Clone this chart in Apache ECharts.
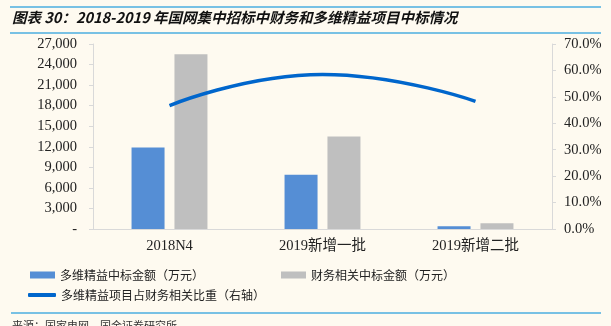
<!DOCTYPE html>
<html>
<head>
<meta charset="utf-8">
<script src="https://cdn.jsdelivr.net/npm/echarts@6/dist/echarts.min.js"></script>
<style>
  html, body { margin: 0; padding: 0; background: #FEFAF0; }
  #chart { width: 611px; height: 326px; }
</style>
</head>
<body>
<div id="chart"></div>
<script>
// Categories and values (amounts in 万元, share in %)
const categories = ['2018N4', '2019新增一批', '2019新增二批'];
const leanAmount = [11900, 7900, 400];
const financeAmount = [25500, 13500, 830];
const leanShare = [46.7, 58.5, 48.3];

const titleText = '图表 30：2018-2019 年国网集中招标中财务和多维精益项目中标情况';
const sourceText = '来源：国家电网，国金证券研究所';
const seriesNames = ['多维精益中标金额（万元）', '财务相关中标金额（万元）', '多维精益项目占财务相关比重（右轴）'];

const serif = "'Liberation Serif', 'Times New Roman', 'Noto Sans CJK SC', serif";
const cjk = "'Noto Sans CJK SC', sans-serif";

const chart = echarts.init(document.getElementById('chart'), null, { renderer: 'canvas' });

const fmtThousands = v => v === 0 ? '-' : v.toLocaleString('en-US');

chart.setOption({
  backgroundColor: '#FEFAF0',
  animation: false,
  grid: { left: 93, right: 59, top: 44, bottom: 97 },
  graphic: [
    { type: 'line', shape: { x1: 10, y1: 7, x2: 601, y2: 7 }, style: { stroke: '#4BAEE0', lineWidth: 1.5 } },
    { type: 'text', left: 12, top: 10, style: { text: titleText, font: 'italic bold 14.5px ' + cjk, fill: '#111' } },
    { type: 'line', shape: { x1: 10, y1: 33, x2: 601, y2: 33 }, style: { stroke: '#4BAEE0', lineWidth: 1.5 } },
    { type: 'line', shape: { x1: 11, y1: 313, x2: 601, y2: 313 }, style: { stroke: '#4BAEE0', lineWidth: 1.5 } },
    { type: 'text', left: 12, top: 320, style: { text: sourceText, font: '11px ' + cjk, fill: '#333' } }
  ],
  legend: [
    {
      data: [seriesNames[0], seriesNames[1]],
      left: 30, top: 269, padding: 0,
      itemWidth: 25, itemHeight: 7, itemGap: 77,
      icon: 'rect',
      textStyle: { fontFamily: cjk, fontSize: 12, color: '#222' }
    },
    {
      data: [seriesNames[2]],
      left: 28, top: 289, padding: 0,
      itemWidth: 28, itemHeight: 4,
      icon: 'roundRect',
      textStyle: { fontFamily: cjk, fontSize: 12, color: '#222' }
    }
  ],
  xAxis: {
    type: 'category',
    data: categories,
    axisLine: { lineStyle: { color: '#D9D9D9', width: 1 } },
    axisTick: { show: false },
    axisLabel: { fontFamily: serif, fontSize: 14.5, color: '#222', margin: 10 }
  },
  yAxis: [
    {
      type: 'value', min: 0, max: 27000, interval: 3000,
      axisLine: { show: true, lineStyle: { color: '#D9D9D9' } },
      axisTick: { show: true, length: 4, lineStyle: { color: '#D9D9D9' } },
      splitLine: { show: false },
      axisLabel: { fontFamily: serif, fontSize: 14.5, color: '#222', margin: 16, formatter: fmtThousands }
    },
    {
      type: 'value', min: 0, max: 70, interval: 10,
      axisLine: { show: true, lineStyle: { color: '#D9D9D9' } },
      axisTick: { show: true, length: 4, lineStyle: { color: '#D9D9D9' } },
      splitLine: { show: false },
      axisLabel: { fontFamily: serif, fontSize: 14.5, color: '#222', margin: 12, formatter: v => v.toFixed(1) + '%' }
    }
  ],
  series: [
    {
      name: seriesNames[0], type: 'bar', data: leanAmount,
      barWidth: 33, barGap: '30%',
      itemStyle: { color: '#558ED5' }
    },
    {
      name: seriesNames[1], type: 'bar', data: financeAmount,
      barWidth: 33,
      itemStyle: { color: '#BFBFBF' }
    },
    {
      name: seriesNames[2], type: 'line', data: leanShare, yAxisIndex: 1,
      smooth: true, symbol: 'none',
      lineStyle: { color: '#0066CC', width: 3.5 },
      itemStyle: { color: '#0066CC' }
    }
  ]
});
</script>
</body>
</html>
